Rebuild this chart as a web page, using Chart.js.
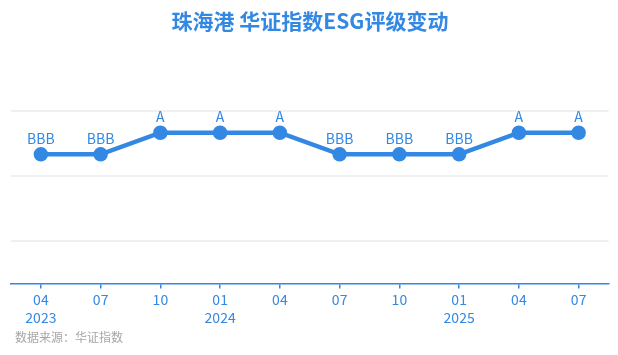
<!DOCTYPE html>
<html>
<head>
<meta charset="utf-8">
<script src="https://cdn.jsdelivr.net/npm/chart.js@4.4.1/dist/chart.umd.min.js"></script>
<style>
html,body{margin:0;padding:0;background:#fff;}
#wrap{width:618px;height:355px;position:relative;}
</style>
</head>
<body>
<div id="wrap"><canvas id="c" width="618" height="355"></canvas></div>
<script>
const months = ['04','07','10','01','04','07','10','01','04','07'];
const years  = ['2023','','','2024','','','','2025','',''];
const ratings = ['BBB','BBB','A','A','A','BBB','BBB','BBB','A','A'];
const ratingScale = ['C','CC','CCC','B','BB','BBB','A','AA','AAA'];
const yGridValues = [2,5,8];

const labels = months.map((m,i)=> years[i] ? [m, years[i]] : m);
const values = ratings.map(r => ratingScale.indexOf(r) + 1);

const BLUE = '#3388e3';
const FONT = '"Microsoft YaHei","Noto Sans CJK SC","Noto Sans",sans-serif';

const labelPlugin = {
  id:'pointLabels',
  afterDatasetsDraw(chart){
    const ctx = chart.ctx;
    const meta = chart.getDatasetMeta(0);
    ctx.save();
    ctx.fillStyle = BLUE;
    ctx.font = '14px ' + FONT;
    ctx.textAlign = 'center';
    ctx.textBaseline = 'middle';
    meta.data.forEach((pt,i)=>{
      ctx.fillText(ratings[i], pt.x, pt.y - 16);
    });
    ctx.restore();
  }
};
const sourcePlugin = {
  id:'source',
  afterDraw(chart){
    const ctx = chart.ctx;
    ctx.save();
    ctx.fillStyle = '#a6a6a6';
    ctx.font = '12px ' + FONT;
    ctx.textAlign = 'left';
    ctx.textBaseline = 'middle';
    ctx.fillText('数据来源：华证指数', 15, 337);
    ctx.restore();
  }
};

new Chart(document.getElementById('c'), {
  type:'line',
  data:{
    labels: labels,
    datasets:[{
      data: values,
      borderColor: BLUE,
      backgroundColor: BLUE,
      borderWidth: 4.5,
      pointRadius: 5,
      pointHoverRadius: 5,
      pointBackgroundColor: BLUE,
      pointBorderColor: BLUE,
      tension: 0,
      clip: false
    }]
  },
  options:{
    responsive:false,
    animation:false,
    events:[],
    layout:{padding:{left:11,right:9,top:0,bottom:26}},
    plugins:{
      legend:{display:false},
      tooltip:{enabled:false},
      title:{
        display:true,
        text:'珠海港 华证指数ESG评级变动',
        color: BLUE,
        font:{family:FONT,size:21,weight:'bold'},
        padding:{top:8,bottom:78}
      }
    },
    scales:{
      x:{
        offset:true,
        border:{display:true,color:BLUE,width:1.5},
        grid:{display:true,drawOnChartArea:false,drawTicks:true,tickLength:5,color:BLUE,lineWidth:1.5},
        ticks:{color:BLUE,font:{family:FONT,size:14,lineHeight:1.3},padding:2,maxRotation:0,autoSkip:false}
      },
      y:{
        min:0,max:8,
        afterBuildTicks(scale){ scale.ticks = yGridValues.map(v=>({value:v})); },
        border:{display:false},
        grid:{color:'#f0f0f0',lineWidth:2,drawTicks:false},
        ticks:{display:false}
      }
    }
  },
  plugins:[labelPlugin, sourcePlugin]
});
</script>
</body>
</html>
